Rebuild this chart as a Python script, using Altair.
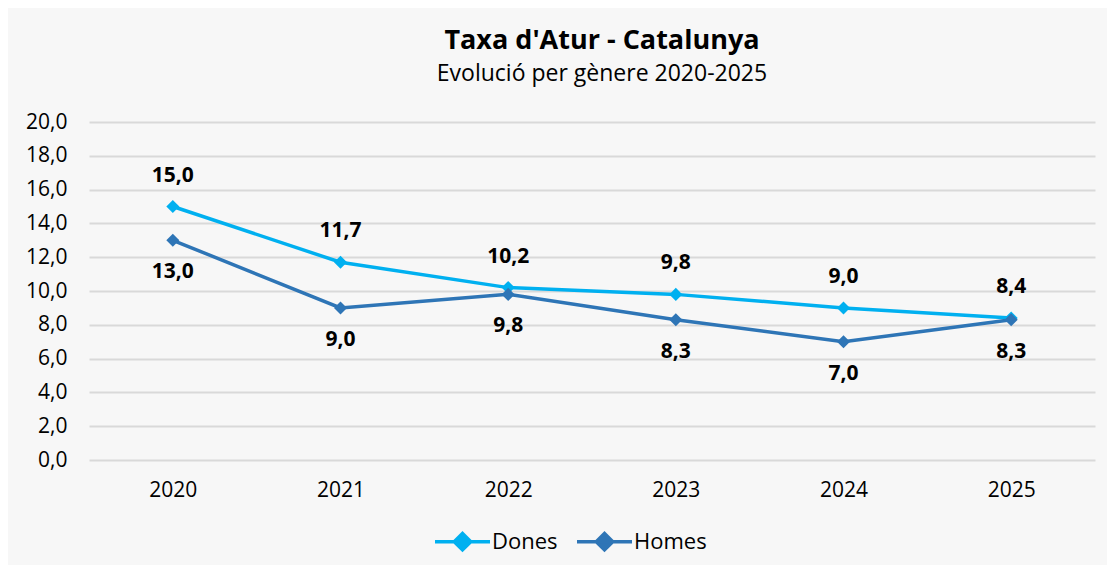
import altair as alt
import pandas as pd

years = ["2020", "2021", "2022", "2023", "2024", "2025"]
dones = [15.0, 11.7, 10.2, 9.8, 9.0, 8.4]
homes = [13.0, 9.0, 9.8, 8.3, 7.0, 8.3]
series = ["Dones", "Homes"]
colors = ["#00B0F0", "#2E75B6"]
y_ticks = [0, 2, 4, 6, 8, 10, 12, 14, 16, 18, 20]

rows = []
for s, vals in zip(series, [dones, homes]):
    for yr, v in zip(years, vals):
        rows.append({"Any": yr, "Sèrie": s, "Valor": v,
                     "Etiqueta": f"{v:.1f}".replace(".", ",")})
df = pd.DataFrame(rows)

FONT = "Open Sans"

x = alt.X("Any:N", sort=years, title=None,
          scale=alt.Scale(type="point", padding=0.5),
          axis=alt.Axis(domain=False, ticks=False, labelAngle=0, labelPadding=19,
                        labelFontSize=21, labelColor="#000000", labelFont=FONT, grid=False))
y = alt.Y("Valor:Q", title=None,
          scale=alt.Scale(domain=[0, 20], nice=False),
          axis=alt.Axis(values=y_ticks, domain=False, ticks=False, labelPadding=22,
                        labelFontSize=21, labelColor="#000000", labelFont=FONT,
                        gridColor="#d9d9d9", gridWidth=2,
                        labelExpr="replace(format(datum.value, '.1f'), '.', ',')"))
color = alt.Color("Sèrie:N", sort=series,
                  scale=alt.Scale(domain=series, range=colors),
                  legend=alt.Legend(title=None, orient="none", direction="horizontal",
                                    legendX=344, legendY=390,
                                    symbolType="M-1,0H1M0,-0.3L0.3,0L0,0.3L-0.3,0Z",
                                    symbolSize=3025, symbolStrokeWidth=3.5,
                                    labelFontSize=22, labelFont=FONT, labelColor="#000000",
                                    columnPadding=12, labelOffset=0))

base = alt.Chart(df)
lines = base.mark_line(strokeWidth=3.5).encode(x=x, y=y, color=color)
points = base.mark_point(shape="diamond", filled=True, size=170, opacity=1).encode(
    x=x, y=y, color=color)
lab_d = base.transform_filter(alt.datum["Sèrie"] == "Dones").mark_text(
    dy=-31, fontSize=21, fontWeight="bold", font=FONT, color="#000000").encode(
    x=x, y=y, text="Etiqueta:N")
lab_h = base.transform_filter(alt.datum["Sèrie"] == "Homes").mark_text(
    dy=32, fontSize=21, fontWeight="bold", font=FONT, color="#000000").encode(
    x=x, y=y, text="Etiqueta:N")

chart = alt.layer(lines, points, lab_d, lab_h).properties(
    width=1006, height=338,
    autosize=alt.AutoSizeParams(type="none"),
    padding={"left": 81, "top": 114, "right": 12, "bottom": 105},
    background="#f7f7f7",
    title=alt.Title("Taxa d'Atur - Catalunya",
                    subtitle="Evolució per gènere 2020-2025",
                    font=FONT, fontSize=27, fontWeight="bold", color="#000000",
                    subtitleFont=FONT, subtitleFontSize=23, subtitleColor="#000000",
                    anchor="middle", offset=24, subtitlePadding=8, dx=10),
).configure_view(stroke=None)

chart.save("out.html", embed_options={"renderer": "svg", "actions": False})
